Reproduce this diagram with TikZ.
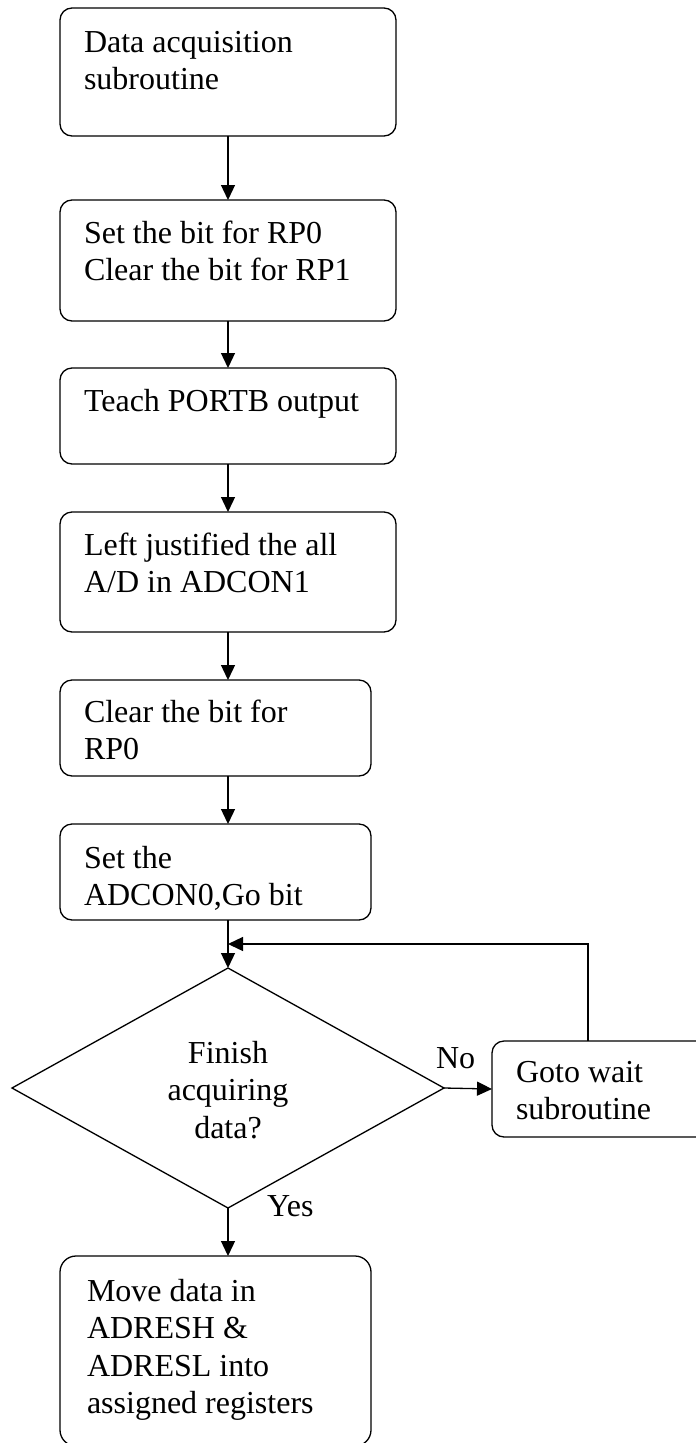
\documentclass[tikz,border=0pt]{standalone}
\usepackage{fontspec}
\setmainfont{Liberation Serif}
\usetikzlibrary{arrows.meta,shapes.geometric}
\tikzset{
  every node/.style={font=\fontsize{32}{37.5}\selectfont, inner sep=0pt, outer sep=0pt},
  box/.style={draw, line width=1.3pt, rounded corners=12pt, rectangle},
  decision/.style={draw, line width=1.3pt, diamond},
  txt/.style={anchor=base west},
  arr/.style={line width=1.3pt, -{Triangle[length=15pt,width=14pt]}},
}
\newcommand{\boxtext}[2]{\parbox[t]{#1pt}{\raggedright #2}}
\begin{document}
\begin{tikzpicture}[x=1pt,y=-1pt]
\useasboundingbox (0,0) rectangle (696,1443);
% boxes
\node[box, minimum width=336pt, minimum height=128pt] (b1) at (228,72) {};
\node[box, minimum width=336pt, minimum height=121pt] (b2) at (228,260.5) {};
\node[box, minimum width=336pt, minimum height=96pt] (b3) at (228,416) {};
\node[box, minimum width=336pt, minimum height=120pt] (b4) at (228,572) {};
\node[box, minimum width=311pt, minimum height=96pt] (b5) at (215.5,728) {};
\node[box, minimum width=311pt, minimum height=96pt] (b6) at (215.5,872) {};
\node[decision, minimum width=432pt, minimum height=240pt] (d) at (228,1088) {};
\node[box, minimum width=218pt, minimum height=96pt] (g) at (601,1089) {};
\node[box, rounded corners=16pt, minimum width=311pt, minimum height=190pt] (b7) at (215.5,1351) {};
% texts
\node[txt] (t1) at (84,52) {\boxtext{300}{Data acquisition\\subroutine}};
\node[txt] (t2) at (84,243) {\boxtext{300}{Set the bit for RP0\\Clear the bit for RP1}};
\node[txt] (t3) at (84,411) {\boxtext{300}{Teach PORTB output}};
\node[txt] (t4) at (84,555) {\boxtext{300}{Left justified the all\\A/D in ADCON1}};
\node[txt] (t5) at (84,722) {\boxtext{280}{Clear the bit for\\RP0}};
\node[txt] (t6) at (84,868) {\boxtext{280}{Set the\\ADCON0,Go bit}};
\node[anchor=base] (td) at (228,1063) {\parbox[t]{220pt}{\centering Finish\\acquiring\\data?}};
\node[txt] (tg) at (516,1082) {\boxtext{180}{Goto wait\\subroutine}};
\node[txt] (t7) at (87,1301) {\boxtext{280}{Move data in\\ADRESH \&\\ADRESL into\\assigned registers}};
\node[txt] (yes) at (267,1216) {Yes};
\node[txt] (no) at (436,1068) {No};
% connectors
\coordinate (j) at (228,944);
\draw[arr] (b1.south) -- (b2.north);
\draw[arr] (b2.south) -- (b3.north);
\draw[arr] (b3.south) -- (b4.north);
\draw[arr] (b4.south) -- (b4.south |- b5.north);
\draw[arr] (b5.south -| b4.south) -- (b6.north -| b4.south);
\draw[arr] (b6.south -| b4.south) -- (d.north);
\draw[arr] (d.east) -- (g.west);
\draw[arr] ([xshift=96pt]g.north west) |- (j);
\draw[arr] (d.south) -- (d.south |- b7.north);
\end{tikzpicture}
\end{document}
